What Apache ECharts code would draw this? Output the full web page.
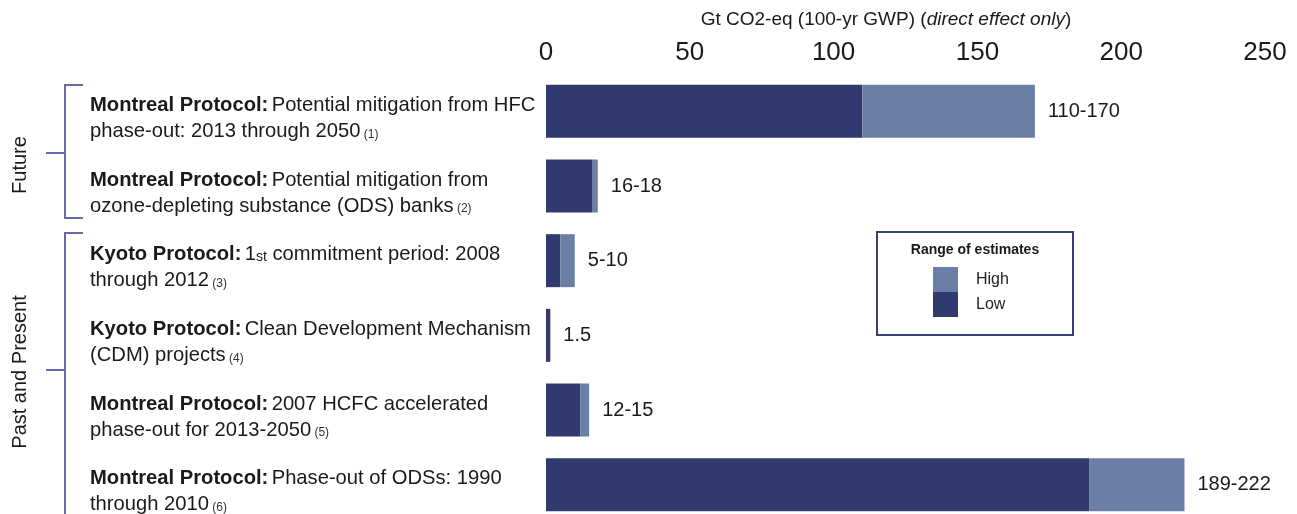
<!DOCTYPE html>
<html>
<head>
<meta charset="utf-8">
<script src="https://cdn.jsdelivr.net/npm/echarts@6/dist/echarts.min.js"></script>
<style>
  html, body { margin: 0; padding: 0; background: #fff; }
  #main { width: 1297px; height: 514px; }
</style>
</head>
<body>
<div id="main"></div>
<script>
// rows, top to bottom
var protocols = ['Montreal Protocol:', 'Montreal Protocol:', 'Kyoto Protocol:', 'Kyoto Protocol:', 'Montreal Protocol:', 'Montreal Protocol:'];
var descriptions = [
    '{r|Potential mitigation from HFC\nphase-out: 2013 through 2050}',
    '{r|Potential mitigation from\nozone-depleting substance (ODS) banks}',
    '{r|1}{o|st}{r| commitment period: 2008\nthrough 2012}',
    '{r|Clean Development Mechanism\n(CDM) projects}',
    '{r|2007 HCFC accelerated\nphase-out for 2013-2050}',
    '{r|Phase-out of ODSs: 1990\nthrough 2010}'
];
var notes = ['(1)', '(2)', '(3)', '(4)', '(5)', '(6)'];
var lowValues = [110, 16, 5, 1.5, 12, 189];
var highValues = [170, 18, 10, 1.5, 15, 222];
var rangeLabels = ['110-170', '16-18', '5-10', '1.5', '12-15', '189-222'];
var xTicks = [0, 50, 100, 150, 200, 250];

var lowColor = '#303a6e';
var highColor = '#6b7fa6';
var bracketColor = '#6669aa';
var font = 'Liberation Sans, Arial, Helvetica, sans-serif';

var categories = protocols.map(function (p, i) {
    return '{b|' + p + '} ' + descriptions[i] + '{s| ' + notes[i] + '}';
});
var highExtra = highValues.map(function (v, i) { return v - lowValues[i]; });

var myChart = echarts.init(document.getElementById('main'));
var option = {
    animation: false,
    textStyle: { fontFamily: font },
    grid: {
        left: 546,
        right: 32,
        top: 74,
        bottom: -8,
        containLabel: false,
        outerBoundsMode: 'none'
    },
    legend: {
        orient: 'vertical',
        left: 933,
        top: 267,
        itemWidth: 25,
        itemHeight: 25,
        itemGap: 0,
        padding: 0,
        icon: 'rect',
        selectedMode: false,
        data: ['High', 'Low'],
        textStyle: { fontSize: 16, color: '#222', padding: [0, 0, 0, 13], fontFamily: font }
    },
    xAxis: {
        type: 'value',
        position: 'top',
        min: 0,
        max: 250,
        interval: 50,
        axisLine: { show: false },
        axisTick: { show: false },
        splitLine: { show: false },
        axisLabel: {
            fontSize: 26,
            color: '#1a1a1a',
            margin: 8,
            formatter: function (v) { return xTicks.indexOf(v) >= 0 ? String(v) : ''; }
        }
    },
    yAxis: {
        type: 'category',
        inverse: true,
        data: categories,
        axisLine: { show: false },
        axisTick: { show: false },
        axisLabel: {
            align: 'left',
            margin: 456,
            padding: [14, 0, 0, 0],
            rich: {
                b: { fontSize: 20.2, fontWeight: 'bold', color: '#1a1a1a', lineHeight: 26, fontFamily: font },
                r: { fontSize: 20.2, color: '#1a1a1a', lineHeight: 26, fontFamily: font },
                o: { fontSize: 14, color: '#1a1a1a', lineHeight: 26, fontFamily: font, padding: [5, 0, 0, 0] },
                s: { fontSize: 12, color: '#333', lineHeight: 26, fontFamily: font, padding: [6, 0, 0, 0] }
            }
        }
    },
    series: [
        {
            name: 'Low',
            type: 'bar',
            stack: 'range',
            barWidth: 53,
            itemStyle: { color: lowColor },
            data: lowValues
        },
        {
            name: 'High',
            type: 'bar',
            stack: 'range',
            barWidth: 53,
            itemStyle: { color: highColor },
            label: {
                show: true,
                position: 'right',
                distance: 13,
                fontSize: 20,
                color: '#1a1a1a',
                formatter: function (p) { return rangeLabels[p.dataIndex]; }
            },
            data: highExtra
        }
    ],
    graphic: [
        // axis title
        {
            type: 'text', x: 886, y: 20,
            style: {
                text: '{n|Gt CO2-eq (100-yr GWP) (}{i|direct effect only}{n|)}',
                align: 'center', verticalAlign: 'middle',
                rich: {
                    n: { fontSize: 19, fill: '#1a1a1a', fontFamily: font },
                    i: { fontSize: 19, fill: '#1a1a1a', fontStyle: 'italic', fontFamily: font }
                }
            }
        },
        // brackets
        { type: 'polyline', shape: { points: [[83, 85], [65, 85], [65, 218], [83, 218]] }, style: { stroke: bracketColor, lineWidth: 2, fill: null } },
        { type: 'line', shape: { x1: 46, y1: 153, x2: 65, y2: 153 }, style: { stroke: bracketColor, lineWidth: 2 } },
        { type: 'polyline', shape: { points: [[83, 233], [65, 233], [65, 520]] }, style: { stroke: bracketColor, lineWidth: 2, fill: null } },
        { type: 'line', shape: { x1: 46, y1: 370, x2: 65, y2: 370 }, style: { stroke: bracketColor, lineWidth: 2 } },
        {
            type: 'text', x: 20, y: 165, rotation: Math.PI / 2,
            style: { text: 'Future', fontSize: 20, fill: '#1a1a1a', align: 'center', verticalAlign: 'middle', fontFamily: font }
        },
        {
            type: 'text', x: 20, y: 372, rotation: Math.PI / 2,
            style: { text: 'Past and Present', fontSize: 20, fill: '#1a1a1a', align: 'center', verticalAlign: 'middle', fontFamily: font }
        },
        // legend box
        {
            type: 'rect', shape: { x: 877, y: 232, width: 196, height: 103 },
            style: { fill: null, stroke: '#3b3f78', lineWidth: 2 }
        },
        {
            type: 'text', x: 975, y: 250,
            style: { text: 'Range of estimates', fontSize: 14, fontWeight: 'bold', fill: '#1a1a1a', align: 'center', verticalAlign: 'middle', fontFamily: font }
        }
    ]
};
myChart.setOption(option);
</script>
</body>
</html>
